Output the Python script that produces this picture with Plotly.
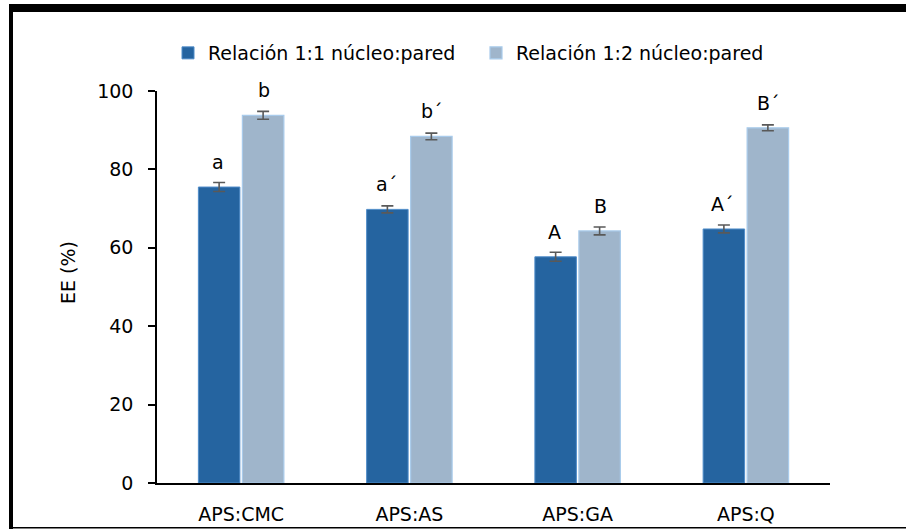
import plotly.graph_objects as go

categories = ["APS:CMC", "APS:AS", "APS:GA", "APS:Q"]
series_names = ["Relación 1:1 núcleo:pared", "Relación 1:2 núcleo:pared"]
ee_11 = [75.5, 69.8, 57.7, 64.8]
ee_12 = [93.8, 88.4, 64.3, 90.6]
err_11 = [1.15, 0.9, 1.15, 1.0]
err_12 = [1.0, 0.85, 1.0, 0.75]
letters_11 = ["a", "a´", "A", "A´"]
letters_12 = ["b", "b´", "B", "B´"]
y_ticks = [0, 20, 40, 60, 80, 100]

FONT = "DejaVu Sans"
FS = 19

W, H = 906, 529
L, R, T, B = 157, 76, 91, 46
pw, ph = W - L - R, H - T - B


def px_x(px):
    return (px - L) / pw


def px_y(py):
    return (H - B - py) / ph


fig = go.Figure()
fig.add_trace(go.Bar(
    x=categories, y=ee_11, name=series_names[0],
    marker=dict(color="#2564A0", line=dict(color="#4F8CC9", width=1)),
    error_y=dict(type="data", array=err_11, visible=True,
                 color="#595959", thickness=1.6, width=6),
))
fig.add_trace(go.Bar(
    x=categories, y=ee_12, name=series_names[1],
    marker=dict(color="#9FB5CB", line=dict(color="#A9CBEB", width=1.2)),
    error_y=dict(type="data", array=err_12, visible=True,
                 color="#595959", thickness=1.6, width=6),
))

annotations = []
for cat, v, t in zip(categories, ee_11, letters_11):
    annotations.append(dict(x=cat, y=v, xref="x", yref="y", text=t,
                            showarrow=False, xshift=-23, yshift=12,
                            yanchor="bottom", xanchor="center",
                            font=dict(family=FONT, size=FS, color="#000")))
for cat, v, t in zip(categories, ee_12, letters_12):
    annotations.append(dict(x=cat, y=v, xref="x", yref="y", text=t,
                            showarrow=False, xshift=23, yshift=12,
                            yanchor="bottom", xanchor="center",
                            font=dict(family=FONT, size=FS, color="#000")))
annotations.append(dict(x=px_x(68), y=px_y(273), xref="paper", yref="paper",
                        text="EE (%)", textangle=-90, showarrow=False,
                        xanchor="center", yanchor="middle",
                        font=dict(family=FONT, size=FS, color="#000")))

shapes = [
    dict(type="rect", xref="paper", yref="paper", x0=px_x(9), x1=px_x(13),
         y0=px_y(529), y1=px_y(4), fillcolor="#000", line=dict(width=0),
         layer="above"),
    dict(type="rect", xref="paper", yref="paper", x0=px_x(9), x1=px_x(906),
         y0=px_y(528.5), y1=px_y(527), fillcolor="#000", line=dict(width=0),
         layer="above"),
    dict(type="rect", xref="paper", yref="paper", x0=px_x(9), x1=px_x(906),
         y0=px_y(12), y1=px_y(4), fillcolor="#000", line=dict(width=0),
         layer="above"),
]

fig.update_layout(
    width=W, height=H,
    margin=dict(l=L, r=R, t=T, b=B, pad=0, autoexpand=False),
    paper_bgcolor="white", plot_bgcolor="white",
    font=dict(family=FONT, size=FS, color="#000"),
    barmode="group", bargap=0.477, bargroupgap=0.057,
    showlegend=True,
    legend=dict(orientation="h", x=px_x(168), y=px_y(53),
                xanchor="left", yanchor="middle",
                font=dict(family=FONT, size=FS, color="#000"),
                entrywidth=263, entrywidthmode="pixels",
                itemwidth=30, traceorder="normal", bgcolor="rgba(0,0,0,0)"),
    xaxis=dict(showline=True, linecolor="#000", linewidth=1.5,
               ticks="", showgrid=False, zeroline=False, automargin=False,
               ticklabelstandoff=13,
               tickfont=dict(family=FONT, size=FS, color="#000")),
    yaxis=dict(range=[0, 100], tickvals=y_ticks, showline=True,
               linecolor="#000", linewidth=1.5, ticks="outside",
               ticklen=7, tickcolor="#000", tickwidth=1.5, automargin=False,
               showgrid=False, zeroline=False, ticklabelstandoff=11,
               tickfont=dict(family=FONT, size=FS, color="#000")),
    annotations=annotations,
    shapes=shapes,
)

fig.write_html("out.html", config={"displayModeBar": False},
               post_script="document.body.style.margin='0';")
